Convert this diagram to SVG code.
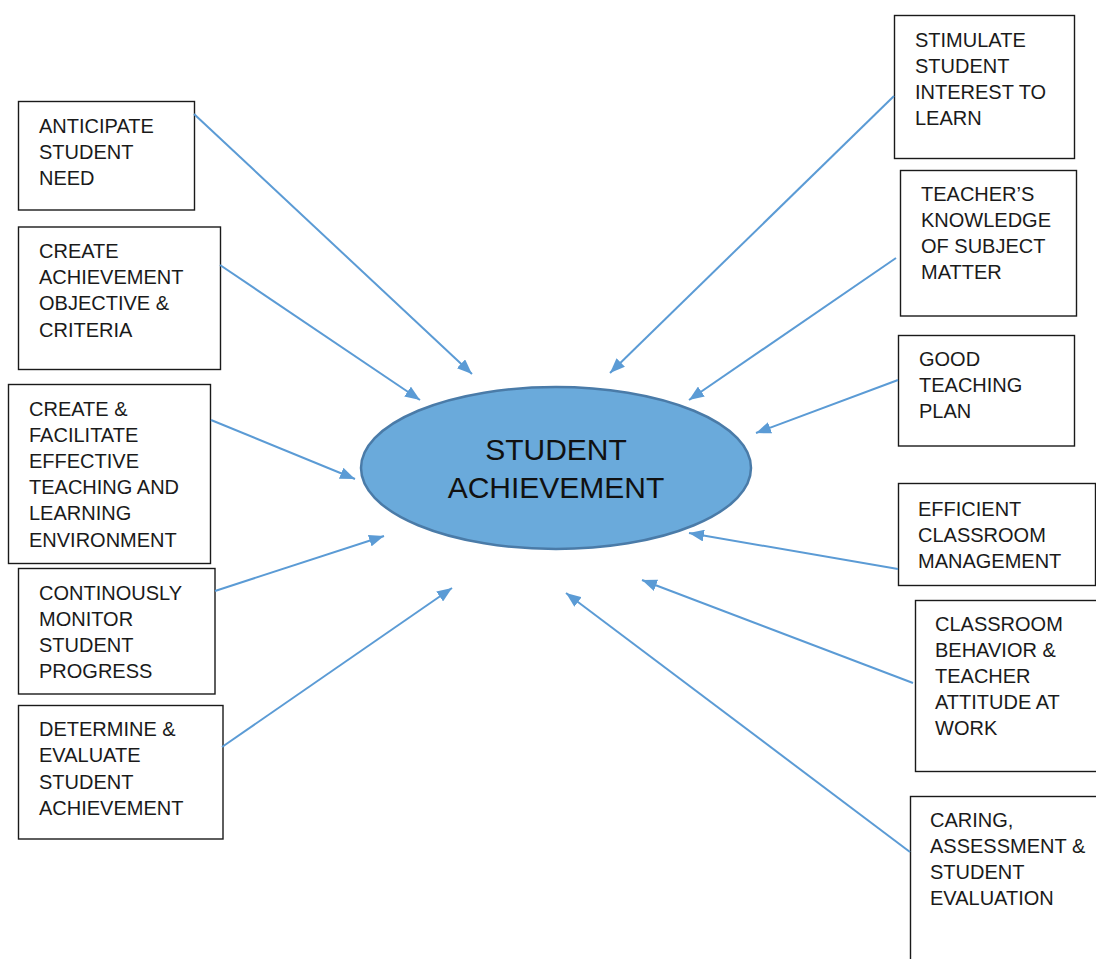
<svg xmlns="http://www.w3.org/2000/svg" width="1096" height="959" viewBox="0 0 1096 959">
  <style>
    .box rect { fill: #ffffff; stroke: #1a1a1a; stroke-width: 1.4; }
    .box text { font-family: "Liberation Sans", Arial, sans-serif; font-size: 20px; fill: #1a1a1a; }
    .hub text { font-family: "Liberation Sans", Arial, sans-serif; font-size: 30px; fill: #111111; text-anchor: middle; }
    .link { stroke: #5b9bd5; stroke-width: 2; fill: none; marker-end: url(#head); }
  </style>
  <defs>
    <marker id="head" markerUnits="userSpaceOnUse" markerWidth="16" markerHeight="12" refX="15" refY="6" orient="auto">
      <path d="M0,0 L15,6 L0,12 Z" fill="#5b9bd5"/>
    </marker>
  </defs>
  <rect width="1096" height="959" fill="#ffffff"/>

  <!-- central goal -->
  <g id="student-achievement" class="hub">
    <ellipse cx="556" cy="468" rx="195" ry="81" fill="#6aaadb" stroke="#4a7ba8" stroke-width="2.5"/>
    <text x="556" y="460">STUDENT</text>
    <text x="556" y="498">ACHIEVEMENT</text>
  </g>

  <!-- left-hand factors -->
  <g id="anticipate" class="box">
    <rect x="18.5" y="101.5" width="176" height="108.5"/>
    <text x="39" y="133">ANTICIPATE</text>
    <text x="39" y="159">STUDENT</text>
    <text x="39" y="185">NEED</text>
  </g>
  <g id="objective" class="box">
    <rect x="18.5" y="227" width="202" height="142.5"/>
    <text x="39" y="258">CREATE</text>
    <text x="39" y="284">ACHIEVEMENT</text>
    <text x="39" y="310">OBJECTIVE &amp;</text>
    <text x="39" y="337">CRITERIA</text>
  </g>
  <g id="environment" class="box">
    <rect x="8.5" y="384.5" width="202" height="179"/>
    <text x="29" y="416">CREATE &amp;</text>
    <text x="29" y="442">FACILITATE</text>
    <text x="29" y="468">EFFECTIVE</text>
    <text x="29" y="494">TEACHING AND</text>
    <text x="29" y="520">LEARNING</text>
    <text x="29" y="547">ENVIRONMENT</text>
  </g>
  <g id="monitor" class="box">
    <rect x="18.5" y="568.5" width="196.5" height="125.5"/>
    <text x="39" y="600">CONTINOUSLY</text>
    <text x="39" y="626">MONITOR</text>
    <text x="39" y="652">STUDENT</text>
    <text x="39" y="678">PROGRESS</text>
  </g>
  <g id="evaluate" class="box">
    <rect x="18.5" y="705.5" width="204.5" height="133.5"/>
    <text x="39" y="736">DETERMINE &amp;</text>
    <text x="39" y="762">EVALUATE</text>
    <text x="39" y="789">STUDENT</text>
    <text x="39" y="815">ACHIEVEMENT</text>
  </g>

  <!-- right-hand factors -->
  <g id="interest" class="box">
    <rect x="894.5" y="15.5" width="180" height="143"/>
    <text x="915" y="47">STIMULATE</text>
    <text x="915" y="73">STUDENT</text>
    <text x="915" y="99">INTEREST TO</text>
    <text x="915" y="125">LEARN</text>
  </g>
  <g id="knowledge" class="box">
    <rect x="900.5" y="170.5" width="176" height="145.5"/>
    <text x="921" y="201">TEACHER’S</text>
    <text x="921" y="227">KNOWLEDGE</text>
    <text x="921" y="253">OF SUBJECT</text>
    <text x="921" y="279">MATTER</text>
  </g>
  <g id="plan" class="box">
    <rect x="898.5" y="335.5" width="176" height="110.5"/>
    <text x="919" y="366">GOOD</text>
    <text x="919" y="392">TEACHING</text>
    <text x="919" y="418">PLAN</text>
  </g>
  <g id="management" class="box">
    <rect x="898.5" y="483.5" width="197" height="102"/>
    <text x="918" y="516">EFFICIENT</text>
    <text x="918" y="542">CLASSROOM</text>
    <text x="918" y="568">MANAGEMENT</text>
  </g>
  <g id="behavior" class="box">
    <rect x="915.5" y="600.5" width="190" height="171"/>
    <text x="935" y="631">CLASSROOM</text>
    <text x="935" y="657">BEHAVIOR &amp;</text>
    <text x="935" y="683">TEACHER</text>
    <text x="935" y="709">ATTITUDE AT</text>
    <text x="935" y="735">WORK</text>
  </g>
  <g id="caring" class="box">
    <rect x="910.5" y="796.5" width="195" height="180"/>
    <text x="930" y="827">CARING,</text>
    <text x="930" y="853">ASSESSMENT &amp;</text>
    <text x="930" y="879">STUDENT</text>
    <text x="930" y="905">EVALUATION</text>
  </g>

  <!-- arrows into the central goal -->
  <g id="connectors">
    <line class="link" x1="194" y1="114" x2="472" y2="374"/>
    <line class="link" x1="220" y1="265" x2="420" y2="400"/>
    <line class="link" x1="211" y1="420" x2="355" y2="479"/>
    <line class="link" x1="215" y1="591" x2="384" y2="536"/>
    <line class="link" x1="222" y1="747" x2="452" y2="588"/>
    <line class="link" x1="894" y1="96" x2="610" y2="373"/>
    <line class="link" x1="896" y1="258" x2="689" y2="400"/>
    <line class="link" x1="898" y1="380" x2="756" y2="433"/>
    <line class="link" x1="898" y1="569" x2="689" y2="533"/>
    <line class="link" x1="913" y1="683" x2="642" y2="580"/>
    <line class="link" x1="910" y1="852" x2="566" y2="593"/>
  </g>
</svg>
